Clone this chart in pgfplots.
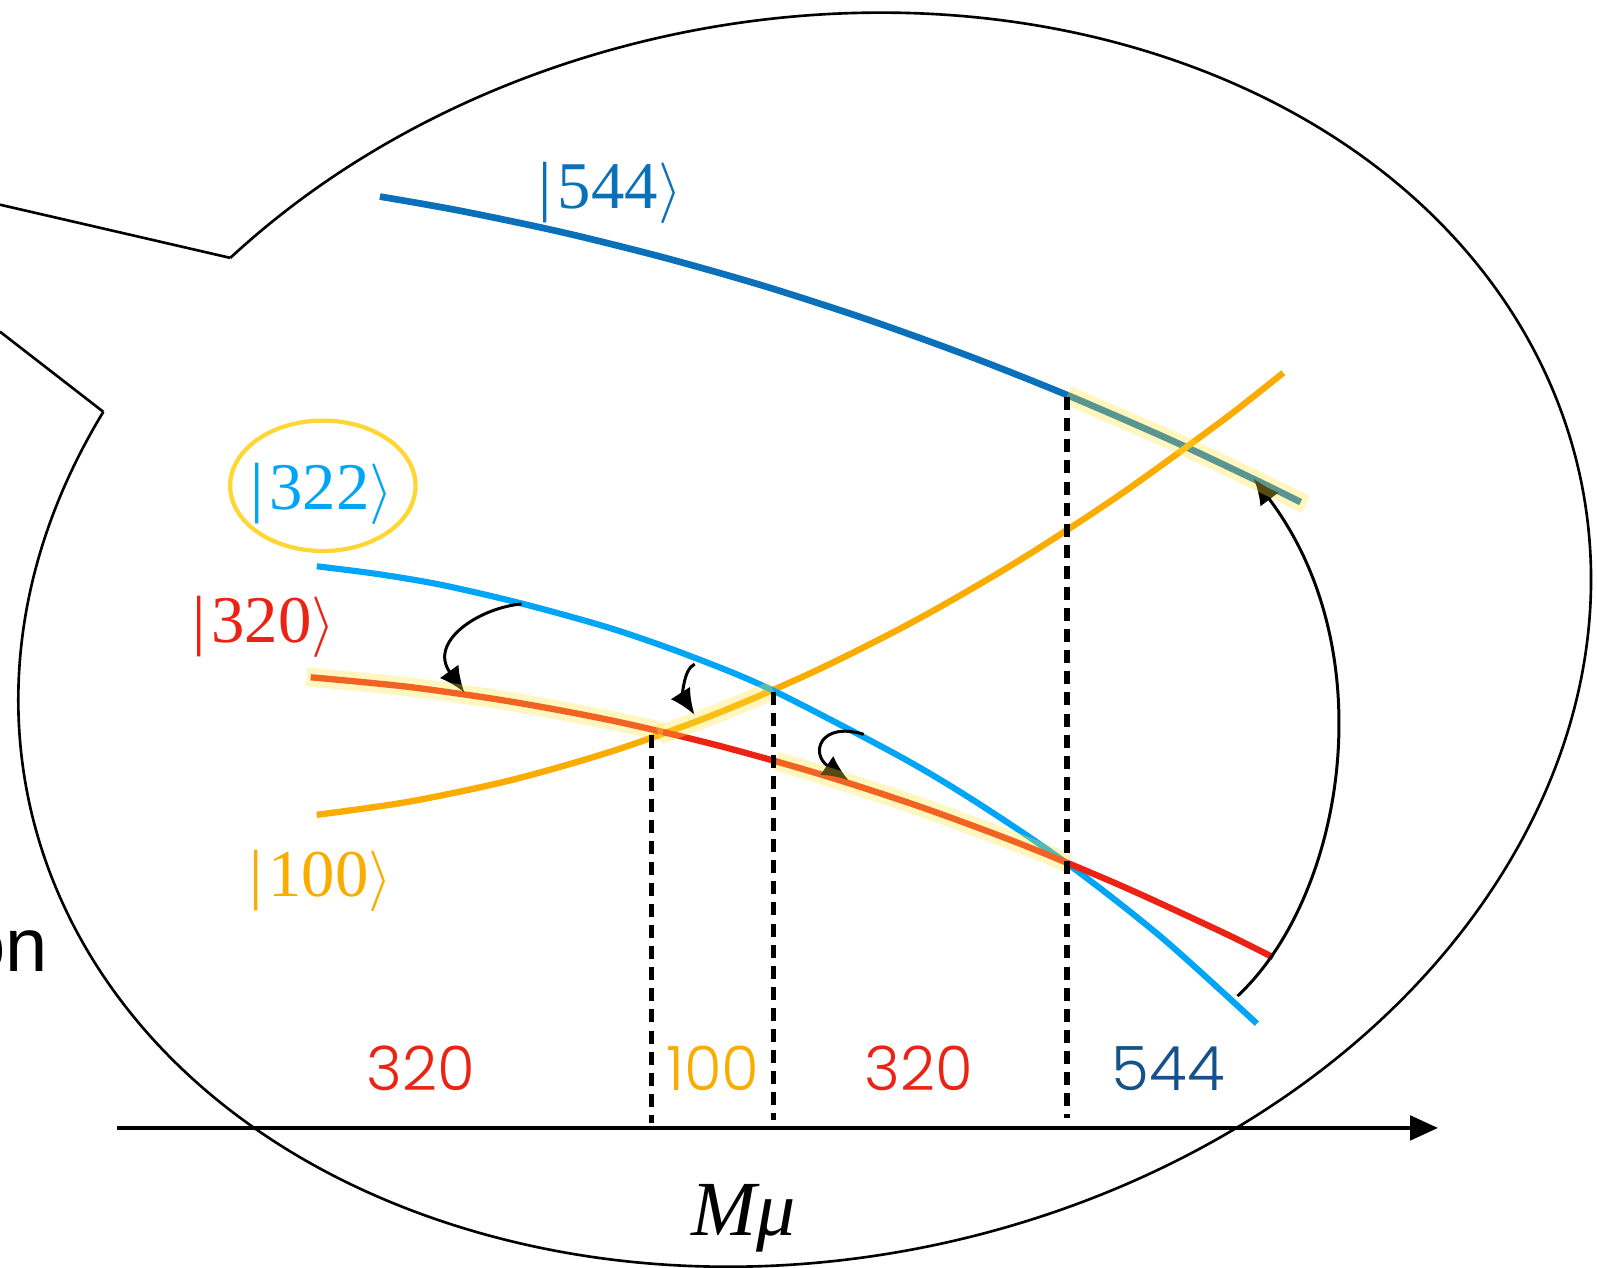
\documentclass[border=0pt]{standalone}
\usepackage{fontspec}
\usepackage{pgfplots}
\usepackage{pgfplotstable}
\pgfplotsset{compat=1.18}
\usetikzlibrary{arrows.meta}
\setmainfont{Liberation Serif}
\newfontfamily\regionfont{Poppins Light}
\newfontfamily\helv{Liberation Sans}

\definecolor{ket544}{RGB}{10,112,185}
\definecolor{ket322}{RGB}{0,165,245}
\definecolor{ket320}{RGB}{235,35,20}
\definecolor{ket100}{RGB}{250,172,0}
\definecolor{lab544}{RGB}{22,82,138}
\definecolor{ringgold}{RGB}{255,214,50}
\definecolor{glow}{RGB}{255,230,60}

% energy levels against M mu (screen units, y grows downwards)
\pgfplotstableread{
x y
373 193
450 206.6
550 227.6
650 252.4
750 280.8
850 313.1
950 349.1
1048 388
1150 432.3
1231 470.4
1277 493
}\levelFiveFourFour

\pgfplotstableread{
x y
311 556
370 563.5
432 574
510 592
600 617
680 645
759 678
884 743
960 788.5
1048 848
1140 920
1234 1005
}\levelThreeTwoTwo

\pgfplotstableread{
x y
305 665
400 674.3
500 688.6
600 707.3
700 730.7
800 758.6
900 790.9
1000 827.8
1100 869.3
1200 915.2
1250 940
}\levelThreeTwoZero

\pgfplotstableread{
x y
311 800
400 787.4
500 766.4
600 737.9
700 702.1
800 659
900 608.6
1000 550.7
1100 485.5
1200 413.1
1260 366
}\levelOneZeroZero

\newcommand\ketfont{\fontsize{19}{23}\selectfont}
\newcommand\regfont{\regionfont\fontsize{17.4}{20}\selectfont}
\newcommand\ket[1]{|\hspace{0.09em}#1$\rangle$}

\begin{document}
\begin{tikzpicture}
\begin{axis}[
  scale only axis, width=15.97cm, height=12.68cm,
  xmin=0, xmax=1568, ymin=0, ymax=1245, y dir=reverse,
  hide axis, clip=true,
]
\coordinate (SW) at (axis cs:0,1245);
\coordinate (NE) at (axis cs:1568,0);

% speech bubble outline with its tail
\begin{scope}[shift={(axis cs:790,628)}, rotate=11.5]
  \coordinate (tA) at (127.9:7.924cm and 6.192cm);
  \coordinate (tB) at (144.1:7.924cm and 6.192cm);
  \draw[line width=0.75pt] (tB) arc[start angle=144.1, end angle=487.9, x radius=7.924cm, y radius=6.192cm];
\end{scope}
\draw[line width=0.75pt] (axis cs:0,201) -- (tA);
\draw[line width=0.75pt] (axis cs:0,325.7) -- (tB);

% levels
\addplot[ket544, line width=1.9pt, smooth] table {\levelFiveFourFour};
\addplot[ket100, line width=1.8pt, smooth] table {\levelOneZeroZero};
\addplot[ket322, line width=1.75pt, smooth] table {\levelThreeTwoTwo};
\addplot[ket320, line width=1.8pt, smooth] table {\levelThreeTwoZero};

% transitions
\draw[line width=0.85pt, -{Latex[length=0.26cm,width=0.23cm]}]
  (axis cs:512,593) .. controls (axis cs:470,597) and (axis cs:420,630) .. (axis cs:456,680);
\draw[line width=0.85pt, -{Latex[length=0.26cm,width=0.23cm]}]
  (axis cs:682,652) .. controls (axis cs:670,658) and (axis cs:671,685) .. (axis cs:682,702);
\draw[line width=0.85pt, -{Latex[length=0.26cm,width=0.23cm]}]
  (axis cs:848,721) .. controls (axis cs:805,708) and (axis cs:795,740) .. (axis cs:833,766);
\draw[line width=0.85pt, -{Latex[length=0.26cm,width=0.23cm]}]
  (axis cs:1215,978) .. controls (axis cs:1320,880) and (axis cs:1360,640) .. (axis cs:1231,470);

% ground-state branches
\addplot[glow, opacity=0.33, line width=5.4pt, smooth] coordinates {
  (301,664.6) (400,674.3) (500,688.6) (600,707.3) (651,718.6)};
\addplot[glow, opacity=0.33, line width=5.4pt, smooth] coordinates {
  (647,722) (700,702.1) (759,677.6)};
\addplot[glow, opacity=0.33, line width=5.4pt, smooth] coordinates {
  (762,747.5) (800,758.6) (900,790.9) (1000,827.8) (1048,847.2)};
\addplot[glow, opacity=0.33, line width=5.4pt, smooth] coordinates {
  (1048,388) (1150,432.3) (1231,470.4) (1282,495.4)};

% crossings
\draw[line width=1.5pt, dash pattern=on 3.7pt off 2.3pt] (axis cs:640,722) -- (axis cs:640,1103);
\draw[line width=1.5pt, dash pattern=on 3.7pt off 2.3pt] (axis cs:759.5,679) -- (axis cs:759.5,1100);
\draw[line width=1.5pt, dash pattern=on 3.7pt off 2.3pt] (axis cs:1047.5,390) -- (axis cs:1047.5,1098);

% M mu axis
\draw[line width=1.4pt, -{Triangle[length=0.28cm,width=0.24cm]}] (axis cs:115,1107.5) -- (axis cs:1412,1107.5);
\node[anchor=base, inner sep=0pt] at (axis cs:730,1213) {\fontsize{22.2}{26}\selectfont\itshape Mμ};

% labels of the levels
\draw[ringgold, line width=1.2pt] (axis cs:317,477) ellipse [x radius=0.927cm, y radius=0.652cm];
\node[anchor=base, inner sep=0pt, text=ket544] at (axis cs:599,205) {\ketfont\ket{544}};
\node[anchor=base, inner sep=0pt, text=ket322] at (axis cs:316,500) {\ketfont\ket{322}};
\node[anchor=base, inner sep=0pt, text=ket320] at (axis cs:259,631) {\ketfont\ket{320}};
\node[anchor=base, inner sep=0pt, text=ket100] at (axis cs:315,880) {\ketfont\ket{100}};

% ground state in each interval
\node[anchor=base, inner sep=0pt, text=ket320] at (axis cs:413,1071) {\regfont 320};
\node[anchor=base, inner sep=0pt, text=ket100] at (axis cs:700,1071) {\regfont 100};
\node[anchor=base, inner sep=0pt, text=ket320] at (axis cs:902,1071) {\regfont 320};
\node[anchor=base, inner sep=0pt, text=lab544] at (axis cs:1147,1071) {\regfont 544};

\node[anchor=base east, inner sep=0pt] at (axis cs:48,954) {\helv\fontsize{21.6}{25}\selectfont on};
\end{axis}
\pgfresetboundingbox
\useasboundingbox (SW) rectangle (NE);
\end{tikzpicture}
\end{document}
